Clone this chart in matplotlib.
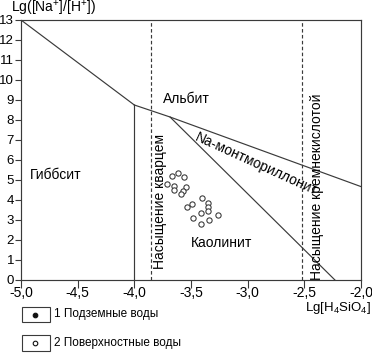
import matplotlib
matplotlib.use("Agg")
import matplotlib.pyplot as plt
from matplotlib.patches import Rectangle
from matplotlib.lines import Line2D

plt.rcParams['font.family'] = ['Liberation Sans', 'DejaVu Sans']
plt.rcParams['mathtext.default'] = 'regular'

# Boundaries between stability fields
gib_alb_x = [-5.0, -4.0]
gib_alb_y = [13.0, 8.75]
gib_kao_x = [-4.0, -4.0]
gib_kao_y = [0.0, 8.75]
alb_low_x = [-4.0, -3.685, -2.0]
alb_low_y = [8.75, 8.15, 4.67]
kao_mont_x = [-3.685, -2.23]
kao_mont_y = [8.15, 0.0]
quartz_sat_x = -3.85
silica_sat_x = -2.52

# Surface water samples (open circles)
surf_x = [-3.614, -3.667, -3.561, -3.711, -3.650, -3.544, -3.650, -3.570, -3.588, -3.402,
          -3.491, -3.350, -3.535, -3.350, -3.350, -3.411, -3.261, -3.482, -3.341, -3.411]
surf_y = [5.35, 5.20, 5.15, 4.80, 4.70, 4.65, 4.50, 4.45, 4.30, 4.10,
          3.80, 3.85, 3.65, 3.65, 3.45, 3.35, 3.25, 3.10, 3.00, 2.80]

x_ticks = [-5.0, -4.5, -4.0, -3.5, -3.0, -2.5, -2.0]
x_ticklabels = ['-5,0', '-4,5', '-4,0', '-3,5', '-3,0', '-2,5', '-2,0']
y_ticks = list(range(0, 14))

W, H = 372, 353
fig = plt.figure(figsize=(W / 100, H / 100), dpi=100)
ax = fig.add_axes([21 / W, (H - 280) / H, 340 / W, 260 / H])
ax.set_xlim(-5.0, -2.0)
ax.set_ylim(0, 13)

lc = '#3a3a3a'
lw = 0.85
ax.plot(gib_alb_x, gib_alb_y, color=lc, lw=lw)
ax.plot(gib_kao_x, gib_kao_y, color=lc, lw=lw)
ax.plot(alb_low_x, alb_low_y, color=lc, lw=lw)
ax.plot(kao_mont_x, kao_mont_y, color=lc, lw=lw)
ax.axvline(quartz_sat_x, color=lc, lw=0.85, ls=(0, (3, 2)))
ax.axvline(silica_sat_x, color=lc, lw=0.85, ls=(0, (3, 2)))

ax.plot(surf_x, surf_y, ls='none', marker='o', ms=3.8, mfc='white', mec='#333333', mew=0.75)

ax.set_xticks(x_ticks)
ax.set_xticklabels(x_ticklabels)
ax.set_yticks(y_ticks)
ax.tick_params(axis='x', direction='out', length=5.5, width=0.8, color=lc, labelsize=10, pad=-1.0)
ax.tick_params(axis='y', direction='out', length=4.5, width=0.8, color=lc, labelsize=9.5, pad=0.5)
for s in ax.spines.values():
    s.set_color(lc)
    s.set_linewidth(0.85)

fs = 10
ax.text(-4.69, 5.25, 'Гиббсит', fontsize=fs, ha='center', va='center')
ax.text(-3.54, 9.05, 'Альбит', fontsize=fs, ha='center', va='center')
ax.text(-3.23, 1.85, 'Каолинит', fontsize=fs, ha='center', va='center')
ax.text(-2.925, 5.8, 'Na-монтмориллонит', fontsize=fs, ha='center', va='center',
        rotation=-24.5, rotation_mode='anchor')
ax.text(-3.77, 3.95, 'Насыщение кварцем', fontsize=fs, ha='center', va='center', rotation=90)
ax.text(-2.39, 4.65, 'Насыщение кремнекислотой', fontsize=fs, ha='center', va='center', rotation=90)

fig.text(11 / W, 1 - 8 / H, 'Lg([Na$^{+}$]/[H$^{+}$])', fontsize=fs, ha='left', va='center')
fig.text(371 / W, 1 - 307.5 / H, 'Lg[H$_{4}$SiO$_{4}$]', fontsize=9.5, ha='right', va='center')

# Legend
for (top, bot, mfc, label) in [(307, 322, '#111111', '1 Подземные воды'),
                                (335, 351, 'white', '2 Поверхностные воды')]:
    fig.patches.append(Rectangle((22 / W, 1 - bot / H), 28 / W, (bot - top) / H,
                                 transform=fig.transFigure, fill=False, ec=lc, lw=0.8))
    cy = 1 - (top + bot) / 2 / H
    fig.lines.append(Line2D([35 / W], [cy], transform=fig.transFigure, marker='o', ms=3.3,
                            mfc=mfc, mec='#111111', mew=0.8, ls='none'))
    fig.text(54 / W, cy, label, fontsize=8.5, ha='left', va='center')

fig.savefig('out.png', dpi=100)
